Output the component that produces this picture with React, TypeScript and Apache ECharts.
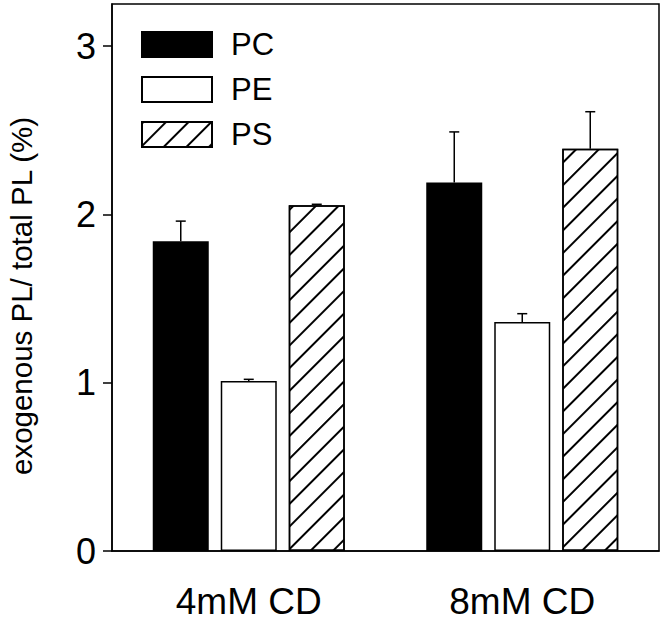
import React, { useEffect, useRef } from "react";
import * as echarts from "echarts";

const categories = ["4mM CD", "8mM CD"];
const seriesNames = ["PC", "PE", "PS"];
const pcValues = [1.84, 2.19];
const pcErrors = [0.12, 0.3];
const peValues = [1.01, 1.36];
const peErrors = [0.01, 0.05];
const psValues = [2.055, 2.39];
const psErrors = [0.005, 0.22];
const yTicks = [0, 1, 2, 3];

const FONT = "'Liberation Sans', Arial, Helvetica, sans-serif";
const BAR_W = 56;
const BAR_GAP = 12;

function errorSeries(name: string, values: number[], errors: number[], idx: number) {
  const offset = (idx - 1) * (BAR_W + BAR_GAP);
  return {
    type: "custom",
    name: name + " error",
    z: 5,
    silent: true,
    data: categories.map((_, i) => [i, values[i], errors[i]]),
    renderItem: (_params: any, api: any) => {
      const ci = api.value(0);
      const v = api.value(1);
      const e = api.value(2);
      const base = api.coord([ci, v]);
      const top = api.coord([ci, v + e]);
      const x = base[0] + offset;
      const style = { stroke: "#000", lineWidth: 1.5 };
      return {
        type: "group",
        children: [
          { type: "line", shape: { x1: x, y1: base[1], x2: x, y2: top[1] }, style },
          { type: "line", shape: { x1: x - 5, y1: top[1], x2: x + 5, y2: top[1] }, style },
        ],
      };
    },
  };
}

export default function App() {
  const ref = useRef<HTMLDivElement>(null);
  useEffect(() => {
    if (!ref.current) return;
    const chart = echarts.init(ref.current, undefined, { renderer: "svg" });
    const hatch = {
      symbol: "rect",
      symbolSize: 1,
      dashArrayX: [1, 0],
      dashArrayY: [1.2, 14],
      rotation: -Math.PI / 4,
      color: "#000",
      backgroundColor: "#fff",
    };
    chart.setOption({
      animation: false,
      backgroundColor: "#fff",
      textStyle: { fontFamily: FONT, color: "#000" },
      grid: {
        left: 112,
        right: 5,
        top: 4,
        bottom: 69,
        show: true,
        borderColor: "#000",
        borderWidth: 1.5,
        containLabel: false,
      },
      legend: {
        data: seriesNames,
        orient: "vertical",
        left: 136,
        top: 24,
        itemWidth: 70,
        itemHeight: 25,
        itemGap: 14,
        icon: "rect",
        selectedMode: false,
        textStyle: { fontSize: 31, color: "#000", fontFamily: FONT, padding: [0, 0, 0, 14] },
      },
      xAxis: {
        type: "category",
        data: categories,
        axisLine: { show: true, lineStyle: { color: "#000", width: 1.5 } },
        axisTick: { show: false },
        axisLabel: { fontSize: 37, lineHeight: 36, color: "#000", fontFamily: FONT, margin: 32 },
        splitLine: { show: false },
      },
      yAxis: {
        type: "value",
        min: 0,
        max: 3.25,
        interval: 1,
        axisLine: { show: true, lineStyle: { color: "#000", width: 1.5 } },
        axisTick: {
          show: true,
          length: 9,
          lineStyle: { color: "#000", width: 1.5 },
          customValues: yTicks,
        },
        axisLabel: {
          fontSize: 36,
          color: "#000",
          fontFamily: FONT,
          margin: 16,
          customValues: yTicks,
        },
        splitLine: { show: false },
      },
      graphic: [
        {
          type: "text",
          x: 21,
          y: 296,
          rotation: Math.PI / 2,
          style: {
            text: "exogenous PL/ total PL (%)",
            fontSize: 29.5,
            fontFamily: FONT,
            fill: "#000",
            textAlign: "center",
            textVerticalAlign: "middle",
          },
        },
      ],
      series: [
        {
          type: "bar",
          name: "PC",
          data: pcValues,
          barWidth: BAR_W,
          barGap: (BAR_GAP / BAR_W) * 100 + "%",
          itemStyle: { color: "#000", borderColor: "#000", borderWidth: 1.5 },
        },
        {
          type: "bar",
          name: "PE",
          data: peValues,
          barWidth: BAR_W,
          barGap: (BAR_GAP / BAR_W) * 100 + "%",
          itemStyle: { color: "#fff", borderColor: "#000", borderWidth: 1.5 },
        },
        {
          type: "bar",
          name: "PS",
          data: psValues,
          barWidth: BAR_W,
          barGap: (BAR_GAP / BAR_W) * 100 + "%",
          itemStyle: { color: "#fff", borderColor: "#000", borderWidth: 1.5, decal: hatch },
        },
        errorSeries("PC", pcValues, pcErrors, 0),
        errorSeries("PE", peValues, peErrors, 1),
        errorSeries("PS", psValues, psErrors, 2),
      ],
    });
    return () => chart.dispose();
  }, []);
  return (
    <div
      ref={ref}
      style={{ position: "fixed", left: 0, top: 0, width: 664, height: 620, background: "#fff" }}
    />
  );
}
